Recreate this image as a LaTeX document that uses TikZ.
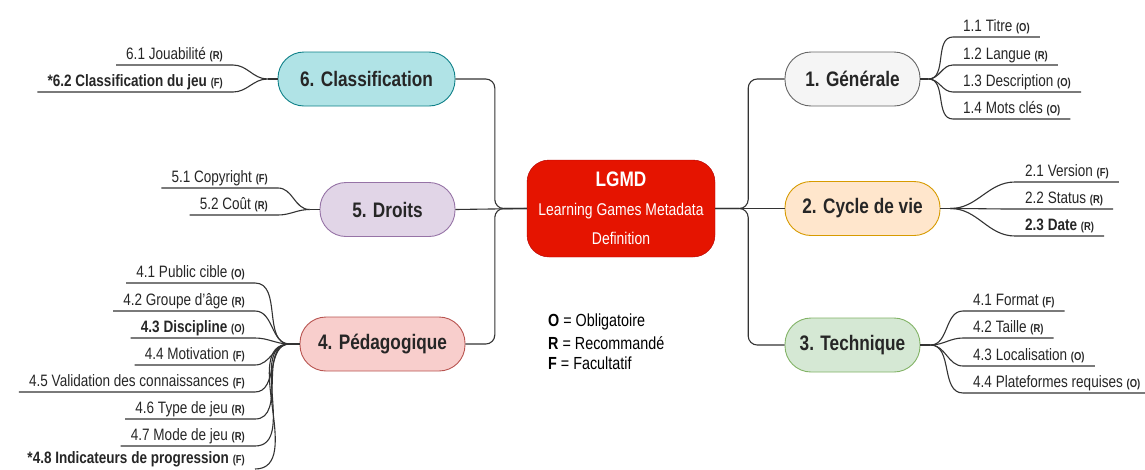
\documentclass[tikz,border=0pt]{standalone}
\usepackage{fontspec}
\setmainfont{Liberation Sans}[FakeStretch=0.82]
\usepackage{tikz}
\usetikzlibrary{positioning}

\definecolor{cenfill}{HTML}{E51400}
\definecolor{cenline}{HTML}{B20000}
\definecolor{genfill}{HTML}{F5F5F5}
\definecolor{genline}{HTML}{666666}
\definecolor{cycfill}{HTML}{FFE6CC}
\definecolor{cycline}{HTML}{D79B00}
\definecolor{tecfill}{HTML}{D5E8D4}
\definecolor{tecline}{HTML}{82B366}
\definecolor{pedfill}{HTML}{F8CECC}
\definecolor{pedline}{HTML}{B85450}
\definecolor{drtfill}{HTML}{E1D5E7}
\definecolor{drtline}{HTML}{9673A6}
\definecolor{clsfill}{HTML}{B0E3E6}
\definecolor{clsline}{HTML}{0E8088}

\newcommand{\mk}[1]{{\fontsize{11.5}{12}\selectfont\bfseries(#1)}}

\begin{document}
\begin{tikzpicture}[x=1pt,y=-1pt,
    topic/.style={draw,rounded corners=26pt,minimum height=54pt,line width=0.9pt,
      font=\fontsize{21}{24}\selectfont\bfseries,text=black!85},
    leafL/.style={anchor=south east,inner xsep=10pt,inner ysep=2pt,text height=12pt,
      text depth=3.5pt,font=\fontsize{16.5}{18}\selectfont,text=black!85},
    leafR/.style={leafL,anchor=south west},
    link/.style={draw=black!80,line width=1.1pt}]
  \useasboundingbox (0,0) rectangle (1145,469);

  % LGMD
  \node[draw=cenline,fill=cenfill,rounded corners=22pt,minimum width=188pt,minimum height=97pt,
    text=white,align=center,font=\fontsize{17}{29}\selectfont] (cent) at (621,208.5)
    {{\fontsize{21}{29}\selectfont\bfseries LGMD}\\Learning Games Metadata\\Definition};

  % topics
  \node[topic,draw=genline,fill=genfill,minimum width=135pt] (gen) at (852.5,79) {1. Générale};
  \node[topic,draw=cycline,fill=cycfill,minimum width=155pt] (cyc) at (862.5,208.5) {2. Cycle de vie};
  \node[topic,draw=tecline,fill=tecfill,minimum width=135pt] (tech) at (852.5,345) {3. Technique};
  \node[topic,draw=pedline,fill=pedfill,minimum width=165pt] (ped) at (382.5,344) {4. Pédagogique};
  \node[topic,draw=drtline,fill=drtfill,minimum width=135pt] (drt) at (387.5,209.5) {5. Droits};
  \node[topic,draw=clsline,fill=clsfill,minimum width=177pt] (cls) at (366.5,79) {6. Classification};

  \draw[link,rounded corners=9pt] (cent.west) -- ++(-32,0) |- (cls.east);
  \draw[link,rounded corners=9pt] (cent.west) -- ++(-32,0) |- (ped.east);
  \draw[link] (cent.west) -- (drt.east);
  \draw[link,rounded corners=9pt] (cent.east) -- ++(33,0) |- (gen.west);
  \draw[link,rounded corners=9pt] (cent.east) -- ++(33,0) |- (tech.west);
  \draw[link] (cent.east) -- (cyc.west);

  % 1. Générale
  \coordinate[right=8pt of gen] (gen-j);
  \node[leafR] (l11) at (953,37) {1.1 Titre \mk{O}};
  \node[leafR] (l12) at (953,65) {1.2 Langue \mk{R}};
  \node[leafR] (l13) at (953,92) {1.3 Description \mk{O}};
  \node[leafR] (l14) at (953,119) {1.4 Mots clés \mk{O}};
  \draw[link] (gen.east) -- (gen-j);
  \draw[link] (gen-j) to[out=0,in=180] (l11.south west) -- (l11.south east);
  \draw[link] (gen-j) to[out=0,in=180] (l12.south west) -- (l12.south east);
  \draw[link] (gen-j) to[out=0,in=180] (l13.south west) -- (l13.south east);
  \draw[link] (gen-j) to[out=0,in=180] (l14.south west) -- (l14.south east);

  % 2. Cycle de vie
  \coordinate[right=10pt of cyc] (cyc-j);
  \node[leafR] (l21) at (1015,182) {2.1 Version \mk{F}};
  \node[leafR] (l22) at (1015,209) {2.2 Status \mk{R}};
  \node[leafR] (l23) at (1015,236) {\bfseries 2.3 Date \mk{R}};
  \draw[link] (cyc.east) -- (cyc-j);
  \draw[link] (cyc-j) to[out=0,in=180] (l21.south west) -- (l21.south east);
  \draw[link] (cyc-j) to[out=0,in=180] (l22.south west) -- (l22.south east);
  \draw[link] (cyc-j) to[out=0,in=180] (l23.south west) -- (l23.south east);

  % 3. Technique
  \coordinate[right=10pt of tech] (tech-j);
  \node[leafR] (l31) at (963,311) {4.1 Format \mk{F}};
  \node[leafR] (l32) at (963,338) {4.2 Taille \mk{R}};
  \node[leafR] (l33) at (963,366) {4.3 Localisation \mk{O}};
  \node[leafR] (l34) at (963,393) {4.4 Plateformes requises \mk{O}};
  \draw[link] (tech.east) -- (tech-j);
  \draw[link] (tech-j) to[out=0,in=180] (l31.south west) -- (l31.south east);
  \draw[link] (tech-j) to[out=0,in=180] (l32.south west) -- (l32.south east);
  \draw[link] (tech-j) to[out=0,in=180] (l33.south west) -- (l33.south east);
  \draw[link] (tech-j) to[out=0,in=180] (l34.south west) -- (l34.south east);

  % 4. Pédagogique
  \coordinate[left=10pt of ped] (ped-j);
  \node[leafL] (l41) at (255,283) {4.1 Public cible \mk{O}};
  \node[leafL] (l42) at (255,311) {4.2 Groupe d'âge \mk{R}};
  \node[leafL] (l43) at (255,338) {\bfseries 4.3 Discipline \mk{O}};
  \node[leafL] (l44) at (255,365) {4.4 Motivation \mk{F}};
  \node[leafL] (l45) at (255,392) {4.5 Validation des connaissances \mk{F}};
  \node[leafL] (l46) at (255,419) {4.6 Type de jeu \mk{R}};
  \node[leafL] (l47) at (255,446) {4.7 Mode de jeu \mk{R}};
  \node[leafL] (l48) at (255,469) {\bfseries *4.8 Indicateurs de progression \mk{F}};
  \draw[link] (ped.west) -- (ped-j);
  \draw[link] (ped-j) to[out=180,in=0] (l41.south east) -- (l41.south west);
  \draw[link] (ped-j) to[out=180,in=0] (l42.south east) -- (l42.south west);
  \draw[link] (ped-j) to[out=180,in=0] (l43.south east) -- (l43.south west);
  \draw[link] (ped-j) to[out=180,in=0] (l44.south east) -- (l44.south west);
  \draw[link] (ped-j) to[out=180,in=0] (l45.south east) -- (l45.south west);
  \draw[link] (ped-j) to[out=180,in=0] (l46.south east) -- (l46.south west);
  \draw[link] (ped-j) to[out=180,in=0] (l47.south east) -- (l47.south west);
  \draw[link] (ped-j) to[out=180,in=0] (l48.south east);

  % 5. Droits
  \coordinate[left=10pt of drt] (drt-j);
  \node[leafL] (l51) at (278,188) {5.1 Copyright \mk{F}};
  \node[leafL] (l52) at (278,215) {5.2 Coût \mk{R}};
  \draw[link] (drt.west) -- (drt-j);
  \draw[link] (drt-j) to[out=180,in=0] (l51.south east) -- (l51.south west);
  \draw[link] (drt-j) to[out=180,in=0] (l52.south east) -- (l52.south west);

  % 6. Classification
  \coordinate[left=10pt of cls] (cls-j);
  \node[leafL] (l61) at (233,65) {6.1 Jouabilité \mk{R}};
  \node[leafL] (l62) at (233,92) {\bfseries *6.2 Classification du jeu \mk{F}};
  \draw[link] (cls.west) -- (cls-j);
  \draw[link] (cls-j) to[out=180,in=0] (l61.south east) -- (l61.south west);
  \draw[link] (cls-j) to[out=180,in=0] (l62.south east) -- (l62.south west);

  % legend
  \node[anchor=west,inner sep=0pt,font=\fontsize{17.5}{20}\selectfont] (lgO) at (548,322) {\textbf{O} = Obligatoire};
  \node[anchor=west,inner sep=0pt,font=\fontsize{17.5}{20}\selectfont] (lgR) at (548,343) {\textbf{R} = Recommandé};
  \node[anchor=west,inner sep=0pt,font=\fontsize{17.5}{20}\selectfont] (lgF) at (548,363) {\textbf{F} = Facultatif};
\end{tikzpicture}
\end{document}
